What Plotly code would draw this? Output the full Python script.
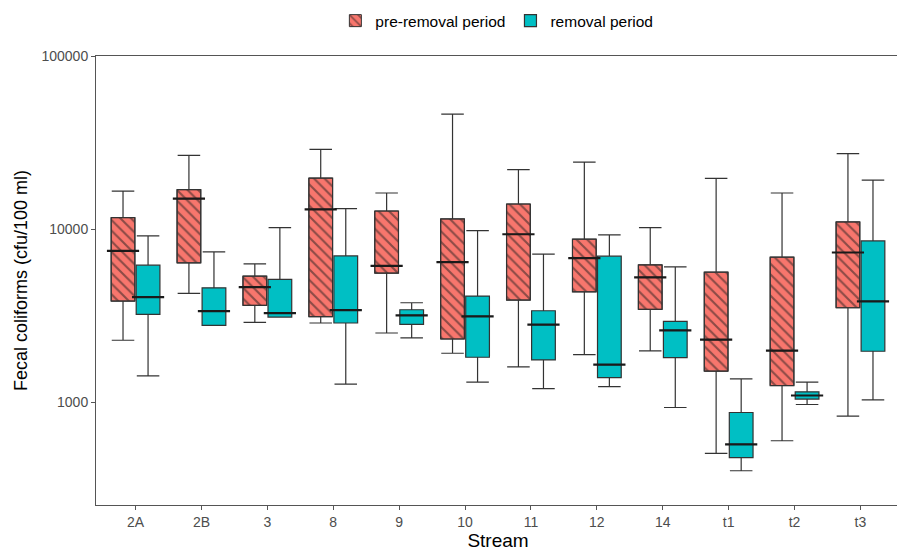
import plotly.graph_objects as go

streams = ["2A", "2B", "3", "8", "9", "10", "11", "12", "14", "t1", "t2", "t3"]

# pre-removal period (box statistics)
pre_upper = [16630, 26730, 6304, 28940, 16200, 46270, 22110, 24450, 10228, 19690, 16200, 27340]
pre_q3 = [11680, 16950, 5356, 19770, 12750, 11468, 13996, 8757, 6223, 5646, 6894, 11020]
pre_median = [7490, 15040, 4627, 13045, 6140, 6450, 9357, 6803, 5264, 2297, 1985, 7335]
pre_q1 = [3842, 6390, 3628, 3119, 5572, 2318, 3894, 4346, 3440, 1510, 1247, 3514]
pre_lower = [2280, 4256, 2893, 2869, 2511, 1917, 1599, 1882, 1977, 505, 598, 830]

# removal period (box statistics)
rem_upper = [9150, 7397, 10228, 13165, 3756, 9828, 7175, 9271, 6060, 1363, 1304, 19250]
rem_q3 = [6197, 4585, 5126, 7013, 3422, 4106, 3377, 6986, 2934, 871, 1147, 8560]
rem_median = [4052, 3363, 3276, 3408, 3177, 3134, 2804, 1648, 2602, 569, 1092, 3827]
rem_q1 = [3220, 2781, 3106, 2869, 2818, 1818, 1754, 1387, 1808, 477, 1041, 1969]
rem_lower = [1419, 2781, 3100, 1270, 2350, 1304, 1198, 1230, 931, 401, 969, 1031]

RED = "#F8766D"
CYAN = "#00BFC4"
EDGE = "#333333"
W = 0.36
OFF = 0.19

idx = list(range(len(streams)))
x_pre = [i - OFF for i in idx]
x_rem = [i + OFF for i in idx]

fig = go.Figure()

# hatched fill for pre-removal boxes
fig.add_trace(go.Bar(
    x=x_pre, base=pre_q1, y=[a - b for a, b in zip(pre_q3, pre_q1)],
    width=W, name="pre-removal period",
    marker=dict(color=RED, line=dict(width=1, color=EDGE),
                pattern=dict(shape="\\", fgcolor="#1f1f1f", bgcolor=RED, size=7.5, solidity=0.28)),
    showlegend=True, hoverinfo="skip",
))

fig.add_trace(go.Box(
    x=x_pre, q1=pre_q1, median=pre_median, q3=pre_q3,
    lowerfence=pre_lower, upperfence=pre_upper,
    width=W, whiskerwidth=0.95, boxpoints=False,
    fillcolor="rgba(0,0,0,0)", line=dict(color=EDGE, width=1.2),
    name="pre-removal period", showlegend=False,
))

fig.add_trace(go.Box(
    x=x_rem, q1=rem_q1, median=rem_median, q3=rem_q3,
    lowerfence=rem_lower, upperfence=rem_upper,
    width=W, whiskerwidth=0.95, boxpoints=False,
    fillcolor=CYAN, line=dict(color=EDGE, width=1.2),
    name="removal period", showlegend=True,
))

# thicker median lines (as in ggplot)
fig.add_trace(go.Scatter(
    x=x_pre + x_rem, y=pre_median + rem_median, mode="markers",
    marker=dict(symbol="line-ew-open", size=23, color="#1a1a1a",
                line=dict(color="#1a1a1a", width=2.2)),
    showlegend=False, hoverinfo="skip",
))

# page body has an 8px margin: figure is sized/offset to fill the 905x552 window
fig.update_layout(
    width=897, height=544,
    margin=dict(l=88, r=5, t=48, b=47),
    paper_bgcolor="white", plot_bgcolor="white",
    font=dict(family="Liberation Sans, Arial, sans-serif", color="#000000"),
    barmode="overlay", boxmode="overlay",
    legend=dict(orientation="h", xref="container", yref="container",
                x=0.545, xanchor="center", y=0.976, yanchor="middle",
                font=dict(size=15.5, color="#000000"), itemwidth=30,
                traceorder="normal"),
    xaxis=dict(
        range=[-0.6, 11.6], tickmode="array", tickvals=idx, ticktext=streams,
        showline=True, linecolor="#555555", linewidth=1, mirror=True,
        ticks="outside", ticklen=4, tickcolor="#555555", automargin=False,
        tickfont=dict(size=14, color="#4D4D4D"), showgrid=False, zeroline=False,
        title=dict(text="Stream", font=dict(size=19, color="#000000"), standoff=0),
    ),
    yaxis=dict(
        type="log", range=[2.405, 5.002],
        tickmode="array", tickvals=[1000, 10000, 100000],
        ticktext=["1000", "10000", "100000"],
        showline=True, linecolor="#555555", linewidth=1, mirror=True,
        ticks="outside", ticklen=4, tickcolor="#555555", automargin=False,
        tickfont=dict(size=14, color="#4D4D4D"), showgrid=False, zeroline=False,
        title=dict(text="Fecal coliforms (cfu/100 ml)", font=dict(size=18, color="#000000"), standoff=9),
    ),
)

fig.write_html("out.html")
